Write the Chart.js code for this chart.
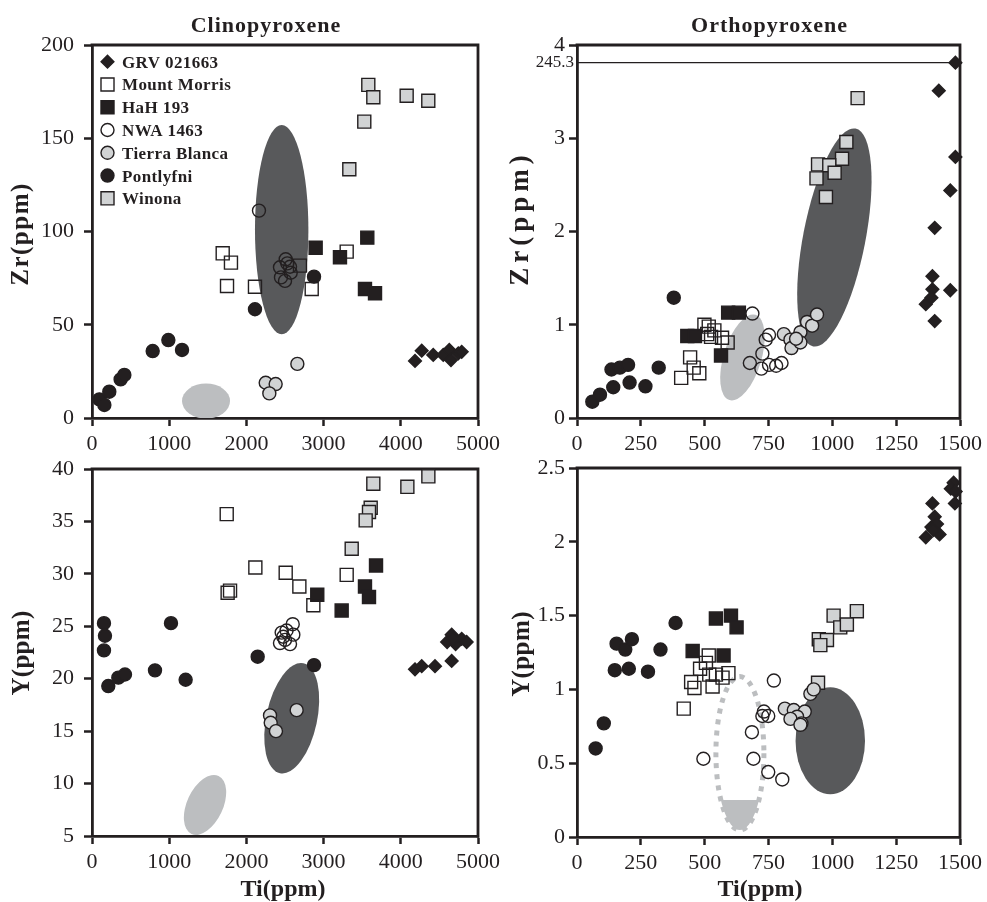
<!DOCTYPE html>
<html><head><meta charset="utf-8">
<title>Pyroxene Ti vs Zr and Y</title>
<script src="https://cdn.jsdelivr.net/npm/chart.js@4.4.1/dist/chart.umd.min.js"></script>
<style>
html,body{margin:0;padding:0;background:#fff}
#wrap{position:relative;width:987px;height:902px;overflow:hidden;background:#fff}
canvas{position:absolute}
</style></head><body><div id="wrap">
<canvas id="cpxZr" width="505" height="455" style="left:0;top:0;width:505px;height:455px"></canvas>
<canvas id="opxZr" width="487" height="455" style="left:500px;top:0;width:487px;height:455px"></canvas>
<canvas id="cpxY" width="505" height="462" style="left:0;top:440px;width:505px;height:462px"></canvas>
<canvas id="opxY" width="487" height="462" style="left:500px;top:440px;width:487px;height:462px"></canvas>
</div>
<script>
// ---------------- data ----------------
const SERIES = ['GRV 021663','Mount Morris','HaH 193','NWA 1463','Tierra Blanca','Pontlyfni','Winona'];

// tick labels
const cpxTiTicks = [0,1000,2000,3000,4000,5000];
const opxTiTicks = [0,250,500,750,1000,1250,1500];
const cpxZrTicks = [0,50,100,150,200];
const opxZrTicks = [0,1,2,3,4];
const cpxYTicks  = [5,10,15,20,25,30,35,40];
const opxYTicks  = [0,0.5,1,1.5,2,2.5];

// Clinopyroxene: Ti vs Zr (ppm)
const cpxZr_GRV = [[4184,30.6],[4271,36.1],[4420,33.8],[4550,33.8],[4628,36.5],[4650,31.1],[4745,34.7],[4789,35.5]];
const cpxZr_MountMorris = [[1693,88.3],[1800,83.3],[1749,70.8],[2111,70.4],[2694,81.7],[2846,69.2],[3299,89.2]];
const cpxZr_HaH = [[2897,91.3],[3212,86.2],[3566,96.7],[3536,69.2],[3666,66.9]];
const cpxZr_NWA = [[2163,111.2],[2509,85.1],[2435,80.8],[2565,81.1],[2574,77.9],[2448,75.4],[2500,73.5],[2530,82.9]];
const cpxZr_TierraBlanca = [[2250,18.9],[2379,18.2],[2297,13.2],[2660,29.0]];
const cpxZr_Pontlyfni = [[95,10.0],[160,7.0],[224,14.1],[371,20.7],[419,23.1],[786,35.9],[989,41.8],[1166,36.5],[2111,58.3],[2876,75.8]];
const cpxZr_Winona = [[3579,178.6],[3644,172.0],[4076,172.8],[4356,170.1],[3527,158.9],[3333,133.4]];

// Orthopyroxene: Ti vs Zr (ppm)
const opxZr_GRV = [[1482,3.81],[1417,3.51],[1482,2.80],[1462,2.44],[1401,2.04],[1392,1.52],[1392,1.38],[1462,1.37],[1366,1.22],[1388,1.29],[1401,1.04]];
const opxZr_MountMorris = [[499,1.00],[516,0.98],[538,0.94],[525,0.87],[568,0.86],[590,0.81],[510,0.90],[443,0.65],[457,0.54],[479,0.48],[408,0.43]];
const opxZr_HaH = [[592,1.13],[634,1.13],[432,0.88],[462,0.88],[564,0.67]];
const opxZr_NWA = [[687,1.12],[739,0.84],[752,0.89],[726,0.69],[677,0.59],[722,0.53],[752,0.57],[780,0.56],[801,0.59]];
const opxZr_TierraBlanca = [[810,0.90],[836,0.84],[840,0.75],[875,0.92],[875,0.81],[901,1.03],[921,0.99],[940,1.11],[858,0.85]];
const opxZr_Pontlyfni = [[60,0.175],[90,0.25],[142,0.33],[206,0.38],[268,0.34],[135,0.52],[168,0.54],[200,0.57],[320,0.54],[379,1.29]];
const opxZr_Winona = [[1099,3.43],[1055,2.96],[1038,2.78],[944,2.72],[988,2.71],[1009,2.63],[938,2.57],[975,2.37]];
const opxZrBreakValue = 3.81;      // off-scale GRV 021663 point
const opxZrBreakLabel = '245.3';

// Clinopyroxene: Ti vs Y (ppm)
const cpxY_GRV = [[4184,20.9],[4271,21.2],[4443,21.2],[4659,21.7],[4600,23.5],[4659,24.2],[4710,23.3],[4789,23.8],[4853,23.5],[4680,23.8]];
const cpxY_MountMorris = [[1745,35.7],[1757,28.2],[1788,28.4],[2116,30.6],[2509,30.1],[2686,28.8],[2867,27.0],[3299,29.9]];
const cpxY_HaH = [[2918,28.0],[3234,26.5],[3536,28.8],[3588,27.8],[3679,30.8]];
const cpxY_NWA = [[2600,25.2],[2457,24.4],[2608,24.2],[2500,23.7],[2435,23.4],[2565,23.3],[2478,24.0],[2520,24.6]];
const cpxY_TierraBlanca = [[2306,16.5],[2315,15.8],[2383,15.0],[2651,17.0]];
const cpxY_Pontlyfni = [[155,25.3],[168,24.1],[155,22.7],[211,19.3],[341,20.1],[427,20.4],[816,20.8],[1023,25.3],[1213,19.9],[2146,22.1],[2876,21.3]];
const cpxY_Winona = [[3644,38.6],[4085,38.3],[4357,39.3],[3610,36.3],[3588,35.9],[3545,35.1],[3364,32.4]];

// Orthopyroxene: Ti vs Y (ppm)
const opxY_GRV = [[1366,2.03],[1392,2.26],[1401,2.17],[1388,2.10],[1420,2.05],[1410,2.12],[1480,2.26],[1475,2.40],[1464,2.36],[1483,2.34],[1395,2.08]];
const opxY_MountMorris = [[516,1.23],[505,1.18],[482,1.14],[518,1.10],[447,1.05],[460,1.01],[531,1.02],[570,1.08],[593,1.11],[544,1.10],[418,0.87]];
const opxY_HaH = [[453,1.26],[544,1.48],[603,1.50],[625,1.42],[574,1.23]];
const opxY_NWA = [[495,0.53],[771,1.06],[685,0.71],[691,0.53],[749,0.44],[804,0.39],[732,0.85],[749,0.82],[726,0.82]];
const opxY_TierraBlanca = [[814,0.87],[849,0.86],[892,0.85],[862,0.815],[836,0.80],[879,0.77],[914,0.97],[927,1.00],[875,0.76]];
const opxY_Pontlyfni = [[73,0.60],[105,0.77],[148,1.13],[155,1.31],[189,1.27],[215,1.34],[203,1.14],[278,1.12],[327,1.27],[386,1.45]];
const opxY_Winona = [[1096,1.53],[1005,1.50],[1031,1.42],[1057,1.44],[947,1.34],[979,1.335],[953,1.30],[944,1.045]];

// compositional fields (centre, half-axes in data units, tilt in degrees)
const cpxZrFields = [{cx:2457,cy:101,rx:346,ry:56.1,tilt:0,kind:'dark'},{cx:1477,cy:9.1,rx:311,ry:9.4,tilt:0,kind:'light'}];
const opxZrFields = [{cx:1008,cy:1.936,rx:122,ry:1.19,tilt:11,kind:'dark'},{cx:648,cy:0.649,rx:74,ry:0.478,tilt:17,kind:'light'}];
const cpxYFields  = [{cx:2587,cy:16.23,rx:329,ry:5.36,tilt:12,kind:'dark'},{cx:1464,cy:7.96,rx:233,ry:3.05,tilt:25,kind:'light'}];
const opxYFields  = [{cx:992,cy:0.652,rx:136,ry:0.362,tilt:0,kind:'dark'},{cx:638,cy:0.567,rx:94,ry:0.52,tilt:0,kind:'dotted',fillBelow:0.25}];

// ---------------- styling ----------------
const FONT = "'Liberation Serif','Times New Roman',serif";
const INK = '#231f20', GRAY = '#d1d3d4', DARK = '#58595b', LIGHT = '#bcbec0', NONE = 'rgba(255,255,255,0)';
const MARK = {
  'GRV 021663':   {shape:'rectRot', r:6.4, fill:INK},
  'Mount Morris': {shape:'rect',    r:9.2, fill:NONE},
  'HaH 193':      {shape:'rect',    r:9.2, fill:INK},
  'NWA 1463':     {shape:'circle',  r:6.5, fill:NONE},
  'Tierra Blanca':{shape:'circle',  r:6.5, fill:GRAY},
  'Pontlyfni':    {shape:'circle',  r:6.5, fill:INK},
  'Winona':       {shape:'rect',    r:9.2, fill:GRAY}
};
const FIELD_COLOR = {dark:DARK, light:LIGHT, dotted:LIGHT};

function buildDatasets(arrs){
  return SERIES.map((name,i)=>{
    const m = MARK[name];
    return {label:name, data:arrs[i].map(([x,y])=>({x,y})), pointStyle:m.shape,
      pointRadius:m.r, pointHoverRadius:m.r, backgroundColor:m.fill, borderColor:INK,
      borderWidth:1.4, clip:false};
  });
}

function axis(isX, min, max, ticks, size, pad){
  return {
    type:'linear', min, max, position: isX ? 'bottom' : 'left',
    afterBuildTicks: s => { s.ticks = ticks.map(v=>({value:v})); },
    afterFit: s => { if (isX) s.height = size; else s.width = size; },
    ticks:{autoSkip:false, maxRotation:0, minRotation:0, padding:pad, color:INK,
      font:{family:FONT, size:22}, callback:v=>String(v)},
    grid:{drawOnChartArea:false, drawTicks:true, tickLength:8, tickWidth:2.5, tickColor:INK},
    border:{display:true, color:INK, width:2.8}
  };
}

function drawMarker(ctx, m, x, y){
  ctx.beginPath();
  if (m.shape==='circle') ctx.arc(x,y,m.r,0,Math.PI*2);
  else if (m.shape==='rect'){ const h=m.r*Math.SQRT1_2; ctx.rect(x-h,y-h,2*h,2*h); }
  else { ctx.moveTo(x-m.r,y); ctx.lineTo(x,y-m.r); ctx.lineTo(x+m.r,y); ctx.lineTo(x,y+m.r); ctx.closePath(); }
  ctx.fillStyle=m.fill; ctx.fill(); ctx.lineWidth=1.4; ctx.strokeStyle=INK; ctx.stroke();
}

function drawText(ctx, t){
  ctx.save();
  ctx.font = (t.bold?'bold ':'') + t.size + 'px ' + FONT;
  ctx.fillStyle = INK;
  try { ctx.letterSpacing = (t.spacing||0) + 'px'; } catch(e){}
  ctx.textAlign = t.align || 'center';
  ctx.textBaseline = t.baseline || 'alphabetic';
  ctx.translate(t.x, t.y);
  if (t.rotate) ctx.rotate(-Math.PI/2);
  ctx.fillText(t.text, 0, 0);
  ctx.restore();
}

const decorPlugin = {
  id:'decor',
  beforeDatasetsDraw(chart, args, o){
    const {ctx, chartArea:a, scales:{x,y}} = chart;
    ctx.save();
    ctx.beginPath(); ctx.rect(a.left,a.top,a.right-a.left,a.bottom-a.top); ctx.clip();
    (o.fields||[]).forEach(f=>{
      const cx=x.getPixelForValue(f.cx), cy=y.getPixelForValue(f.cy);
      const rx=Math.abs(x.getPixelForValue(f.cx+f.rx)-cx), ry=Math.abs(y.getPixelForValue(f.cy+f.ry)-cy);
      const rot=f.tilt*Math.PI/180, col=FIELD_COLOR[f.kind];
      if (f.kind==='dotted'){
        const yc=y.getPixelForValue(f.fillBelow);
        ctx.save();
        ctx.beginPath(); ctx.rect(a.left,yc,a.right-a.left,a.bottom-yc); ctx.clip();
        ctx.beginPath(); ctx.ellipse(cx,cy,rx,ry,rot,0,Math.PI*2); ctx.fillStyle=col; ctx.fill();
        ctx.restore();
        ctx.beginPath(); ctx.ellipse(cx,cy,rx,ry,rot,0,Math.PI*2);
        ctx.setLineDash([5,6]); ctx.lineWidth=5; ctx.strokeStyle=col; ctx.stroke(); ctx.setLineDash([]);
      } else {
        ctx.beginPath(); ctx.ellipse(cx,cy,rx,ry,rot,0,Math.PI*2); ctx.fillStyle=col; ctx.fill();
      }
    });
    ctx.restore();
    ctx.save();
    if (o.breakLine){
      const py=y.getPixelForValue(o.breakLine.value);
      ctx.beginPath(); ctx.moveTo(a.left,py); ctx.lineTo(a.right,py);
      ctx.lineWidth=1.2; ctx.strokeStyle=INK; ctx.stroke();
      drawText(ctx,{text:o.breakLine.label,x:a.left-3,y:py,size:17,align:'right',baseline:'middle',spacing:0});
    }
    // frame: top and right edges
    ctx.beginPath();
    ctx.moveTo(a.left-1.4,a.top); ctx.lineTo(a.right,a.top); ctx.lineTo(a.right,a.bottom+1.4);
    ctx.lineWidth=2.8; ctx.strokeStyle=INK; ctx.stroke();
    ctx.restore();
  },
  afterDraw(chart, args, o){
    const ctx=chart.ctx;
    (o.texts||[]).forEach(t=>drawText(ctx,t));
    if (o.legend){
      const L=o.legend;
      SERIES.forEach((name,i)=>{
        const yy=L.y0+i*L.step;
        ctx.save(); drawMarker(ctx,MARK[name],L.x,yy); ctx.restore();
        drawText(ctx,{text:name,x:L.textX,y:yy+6,size:17,bold:true,spacing:0.4,align:'left'});
      });
    }
  }
};

function makeChart(id, arrs, xa, ya, padding, decor){
  return new Chart(document.getElementById(id), {
    type:'scatter',
    data:{datasets:buildDatasets(arrs)},
    options:{
      responsive:false, animation:false, events:[], devicePixelRatio:1,
      layout:{padding},
      scales:{x:xa, y:ya},
      plugins:{legend:{display:false}, tooltip:{enabled:false}, decor}
    },
    plugins:[decorPlugin]
  });
}

makeChart('cpxZr',
  [cpxZr_GRV,cpxZr_MountMorris,cpxZr_HaH,cpxZr_NWA,cpxZr_TierraBlanca,cpxZr_Pontlyfni,cpxZr_Winona],
  axis(true,0,5000,cpxTiTicks,37,5), axis(false,0,200,cpxZrTicks,92,10),
  {left:0,top:45,right:27,bottom:0},
  {fields:cpxZrFields,
   legend:{x:107.5,textX:122,y0:61.7,step:22.77},
   texts:[{text:'Clinopyroxene',x:266,y:31.5,size:22,bold:true,spacing:1},
          {text:'Zr(ppm)',x:27.5,y:234,size:25,bold:true,spacing:1.5,rotate:true}]});

makeChart('opxZr',
  [opxZr_GRV,opxZr_MountMorris,opxZr_HaH,opxZr_NWA,opxZr_TierraBlanca,opxZr_Pontlyfni,opxZr_Winona],
  axis(true,0,1500,opxTiTicks,37,5), axis(false,0,4,opxZrTicks,77,4),
  {left:0,top:45,right:25,bottom:0},
  {fields:opxZrFields, breakLine:{value:opxZrBreakValue,label:opxZrBreakLabel},
   texts:[{text:'Orthopyroxene',x:269.5,y:31.5,size:22,bold:true,spacing:1},
          {text:'Zr(ppm)',x:28,y:218,size:27,bold:true,spacing:5,rotate:true}]});

makeChart('cpxY',
  [cpxY_GRV,cpxY_MountMorris,cpxY_HaH,cpxY_NWA,cpxY_TierraBlanca,cpxY_Pontlyfni,cpxY_Winona],
  axis(true,0,5000,cpxTiTicks,66,5), axis(false,5,40,cpxYTicks,92,10),
  {left:0,top:29,right:27,bottom:0},
  {fields:cpxYFields,
   texts:[{text:'Y(ppm)',x:29,y:213,size:25,bold:true,spacing:0.3,rotate:true},
          {text:'Ti(ppm)',x:283,y:456,size:24,bold:true,spacing:0}]});

makeChart('opxY',
  [opxY_GRV,opxY_MountMorris,opxY_HaH,opxY_NWA,opxY_TierraBlanca,opxY_Pontlyfni,opxY_Winona],
  axis(true,0,1500,opxTiTicks,65,5), axis(false,0,2.5,opxYTicks,77,4),
  {left:0,top:28,right:25,bottom:0},
  {fields:opxYFields,
   texts:[{text:'Y(ppm)',x:29,y:214,size:25,bold:true,spacing:0.4,rotate:true},
          {text:'Ti(ppm)',x:260,y:456,size:24,bold:true,spacing:0}]});
</script>
</body></html>
